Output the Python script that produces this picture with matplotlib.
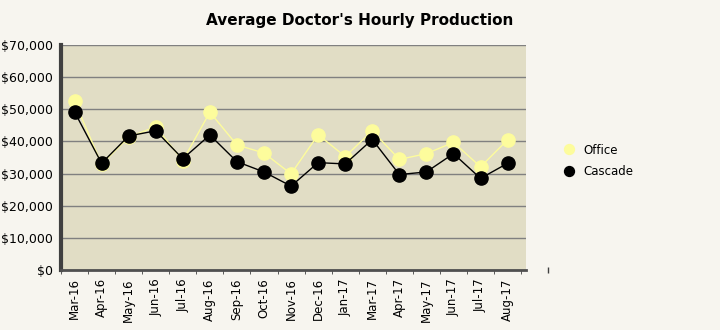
import numpy as np
import matplotlib.pyplot as plt
from matplotlib.ticker import FuncFormatter

months = ['Mar-16', 'Apr-16', 'May-16', 'Jun-16', 'Jul-16', 'Aug-16', 'Sep-16',
          'Oct-16', 'Nov-16', 'Dec-16', 'Jan-17', 'Mar-17', 'Apr-17', 'May-17',
          'Jun-17', 'Jul-17', 'Aug-17']
office = [52500, 32900, 41300, 44600, 34000, 49100, 38900, 36400, 29900,
          42100, 35300, 43300, 34400, 36200, 39700, 32100, 40500]
cascade = [49200, 33200, 41700, 43300, 34600, 42000, 33700, 30500, 26100,
           33400, 33000, 40600, 29700, 30500, 36200, 28500, 33200]

bg = '#f7f5ef'
plot_bg = '#e1ddc5'
yellow = '#fdfc9c'

fig = plt.figure(figsize=(7.2, 3.3), dpi=100, facecolor=bg)
ax = fig.add_axes([61 / 720, 60 / 330, 465 / 720, 225 / 330], facecolor=plot_bg)

x = np.arange(len(months))
ax.plot(x, office, color=yellow, lw=1, marker='o', ms=9.5, mec=yellow, mfc=yellow,
        label='Office', zorder=3)
ax.plot(x, cascade, color='black', lw=1, marker='o', ms=9.5, mec='black', mfc='black',
        label='Cascade', zorder=4)

ax.set_xlim(-0.5, 16.68)
ax.set_ylim(0, 70000)
ax.set_yticks(np.arange(0, 70001, 10000))
ax.yaxis.set_major_formatter(FuncFormatter(lambda v, p: '${:,.0f}'.format(v)))
ax.grid(axis='y', color='#808080', lw=1)
ax.set_axisbelow(True)

# category labels in the middle, tick marks on the boundaries
ax.set_xticks(x)
ax.set_xticklabels(months, rotation=90, fontsize=8.5)
ax.tick_params(axis='x', length=0, pad=6)
ax.set_xticks(np.arange(-0.5, 16.6, 1), minor=True)
ax.tick_params(axis='x', which='minor', length=3, color='#404040')
ax.plot([17.5], [0], marker='|', ms=4, color='#404040', clip_on=False)
ax.tick_params(axis='y', length=0, labelsize=9, pad=6)

for s in ['top', 'right']:
    ax.spines[s].set_visible(False)
ax.spines['left'].set_color('#404040')
ax.spines['left'].set_linewidth(3)
ax.spines['bottom'].set_color('#505050')
ax.spines['bottom'].set_linewidth(2)

fig.text(0.5, 1 - 20 / 330, "Average Doctor's Hourly Production", ha='center',
         va='center', fontsize=11, fontweight='bold')

leg = fig.legend(loc='upper left', bbox_to_anchor=(552 / 720, 1 - 133 / 330),
                 frameon=False, fontsize=8.5, handlelength=1, markerscale=0.75,
                 labelspacing=0.75)
for h in leg.legend_handles:
    h.set_linestyle('none')

fig.savefig('out.png', dpi=100, facecolor=bg)
